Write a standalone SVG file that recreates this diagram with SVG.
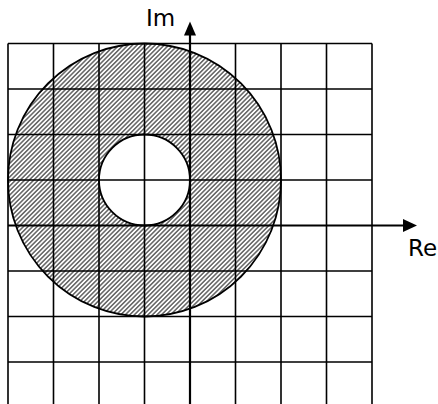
<svg xmlns="http://www.w3.org/2000/svg" width="438" height="404" viewBox="0 0 438 404">
<style>
.grid{stroke:#000;stroke-width:1.6;fill:none}
.axis{stroke:#000;stroke-width:2.2;fill:none}
.lbl{font-family:"DejaVu Sans",sans-serif;font-size:23px;fill:#000}
</style>
<defs>
<pattern id="hatch" patternUnits="userSpaceOnUse" width="3.2" height="10" patternTransform="rotate(45)">
<line x1="0.8" y1="0" x2="0.8" y2="10" stroke="#555" stroke-width="1.4"/>
</pattern>
</defs>
<rect width="438" height="404" fill="#fff"/>
<g id="annulus">
<path d="M 8 180 A 136.5 136.5 0 1 0 281 180 A 136.5 136.5 0 1 0 8 180 Z M 99 180 A 45.5 45.5 0 1 1 190 180 A 45.5 45.5 0 1 1 99 180 Z" fill="url(#hatch)" fill-rule="evenodd"/>
</g>
<g id="grid" class="grid">
<path d="M8 43.5V410M53.5 43.5V410M99 43.5V410M144.5 43.5V410M235.5 43.5V410M281 43.5V410M326.5 43.5V410M372 43.5V410"/>
<path d="M8 43.5H372M8 89H372M8 134.5H372M8 180H372M8 271H372M8 316.5H372M8 362H372"/>
</g>
<g id="circles" fill="none" stroke="#000" stroke-width="1.8">
<circle cx="144.5" cy="180" r="136.5"/>
<circle cx="144.5" cy="180" r="45.5"/>
</g>
<g id="connectors">
<line class="axis" x1="190" y1="410" x2="190" y2="34"/>
<polygon points="190,21.5 184,35.5 196,35.5" fill="#000"/>
<line class="axis" x1="8" y1="225.5" x2="404" y2="225.5"/>
<polygon points="417,225.5 403,219 403,232" fill="#000"/>
</g>
<g id="label-im"><text class="lbl" x="146" y="26">Im</text></g>
<g id="label-re"><text class="lbl" x="408" y="256">Re</text></g>
</svg>
